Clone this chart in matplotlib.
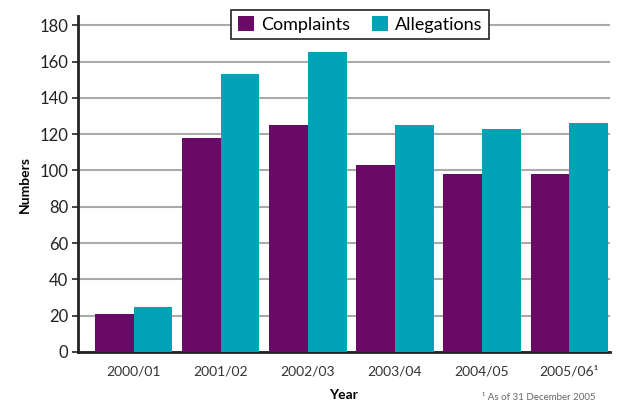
import numpy as np
import matplotlib
matplotlib.use("Agg")
import matplotlib.pyplot as plt

plt.rcParams['font.family'] = ['Lato', 'DejaVu Sans']

years = ['2000/01', '2001/02', '2002/03', '2003/04', '2004/05', '2005/06\u00b9']
complaints = [21, 118, 125, 103, 98, 98]
allegations = [25, 153, 165, 125, 123, 126]

PURPLE = '#6a0a66'
TEAL = '#00a3b5'

fig = plt.figure(figsize=(6.18, 4.04), dpi=100)
ax = fig.add_axes([0.126, 0.129, 0.861, 0.831])

x = np.arange(len(years))
w = 0.443
ax.bar(x - w / 2, complaints, w, color=PURPLE, label='Complaints', zorder=3)
ax.bar(x + w / 2, allegations, w, color=TEAL, label='Allegations', zorder=3)

ax.set_ylim(0, 185)
ax.set_xlim(-0.644, 5.47)
ax.set_yticks(range(0, 181, 20))
ax.set_xticks(x)
ax.set_xticklabels(years, fontsize=10, color='#333333')
ax.tick_params(axis='y', labelsize=12, colors='#222222', length=4, width=1.2, pad=3)
ax.tick_params(axis='x', length=0, pad=10)
ax.yaxis.grid(True, color='#aaaaaa', lw=1.5, zorder=0)

for s in ['top', 'right']:
    ax.spines[s].set_visible(False)
ax.spines['left'].set_linewidth(2)
ax.spines['left'].set_color('#222222')
ax.spines['bottom'].set_linewidth(2)
ax.spines['bottom'].set_color('#222222')

ax.set_xlabel('Year', fontsize=10, fontweight='bold', labelpad=8)
ax.set_ylabel('Numbers', fontsize=10, fontweight='bold', labelpad=6)

leg = fig.legend(loc='center', bbox_to_anchor=(0.583, 0.94), ncol=2, fontsize=13,
                 frameon=True, fancybox=False, edgecolor='#222222', framealpha=1,
                 handlelength=0.9, handleheight=0.9, handletextpad=0.4,
                 columnspacing=1.2, borderpad=0.35)
leg.get_frame().set_linewidth(1.2)

fig.text(0.963, 0.005, '\u00b9 As of 31 December 2005', ha='right', va='bottom',
         fontsize=7, color='#666666')

fig.savefig('out.png', dpi=100)
